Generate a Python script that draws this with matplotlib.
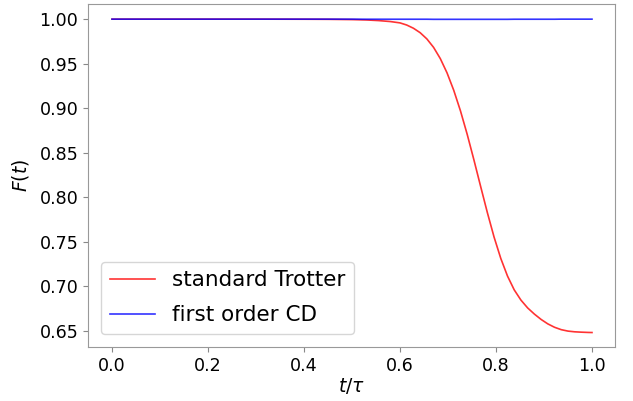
import numpy as np
import matplotlib
matplotlib.use("Agg")
import matplotlib.pyplot as plt

# values
t = [0.0, 0.1, 0.2, 0.3, 0.4, 0.45, 0.5, 0.53, 0.555, 0.58,
     0.6, 0.614, 0.628, 0.642, 0.656, 0.67, 0.684, 0.698, 0.712, 0.726,
     0.74, 0.754, 0.768, 0.782, 0.796, 0.81, 0.824, 0.838, 0.852, 0.866,
     0.88, 0.894, 0.908, 0.922, 0.936, 0.95, 0.964, 0.978, 0.992, 1.0]
trotter = [1.0, 1.0, 1.0, 1.0, 0.9999, 0.9998, 0.9995, 0.9991, 0.9984, 0.9973,
           0.9958, 0.9934, 0.9898, 0.9848, 0.9778, 0.9683, 0.9557, 0.9397, 0.9201, 0.8970,
           0.8707, 0.8420, 0.8122, 0.7828, 0.7553, 0.7313, 0.7115, 0.6960, 0.6845, 0.6757,
           0.6688, 0.6628, 0.6578, 0.6540, 0.6513, 0.6497, 0.6489, 0.6485, 0.6482, 0.6481]
cd = [1.0] * 7 + [0.9999] * 8 + [0.9998] * 12 + [0.9999] * 7 + [1.0] * 6

fig, ax = plt.subplots(figsize=(6.33, 4.01), dpi=100)
fig.subplots_adjust(left=0.139, right=0.9716, top=0.990, bottom=0.135)

ax.plot(t, trotter, color='red', alpha=0.8, lw=1.2, label='standard Trotter')
ax.plot(t, cd, color='blue', alpha=0.8, lw=1.2, label='first order CD')

ax.set_xlabel(r'$t/\tau$', fontsize=13.5, labelpad=1)
ax.set_ylabel(r'$F(t)$', fontsize=13.5, labelpad=6)
ax.set_xticks([0.0, 0.2, 0.4, 0.6, 0.8, 1.0])
ax.set_yticks(np.arange(0.65, 1.001, 0.05))
ax.set_ylim(0.632, 1.017)
ax.set_xlim(-0.05, 1.048)
ax.tick_params(labelsize=12.6, color='#888888')
for s in ax.spines.values():
    s.set_color('#999999')

ax.legend(fontsize=15.5, loc='lower left', handlelength=2.1, labelspacing=0.7,
          borderaxespad=0.6)

plt.savefig('out.png', dpi=100)
